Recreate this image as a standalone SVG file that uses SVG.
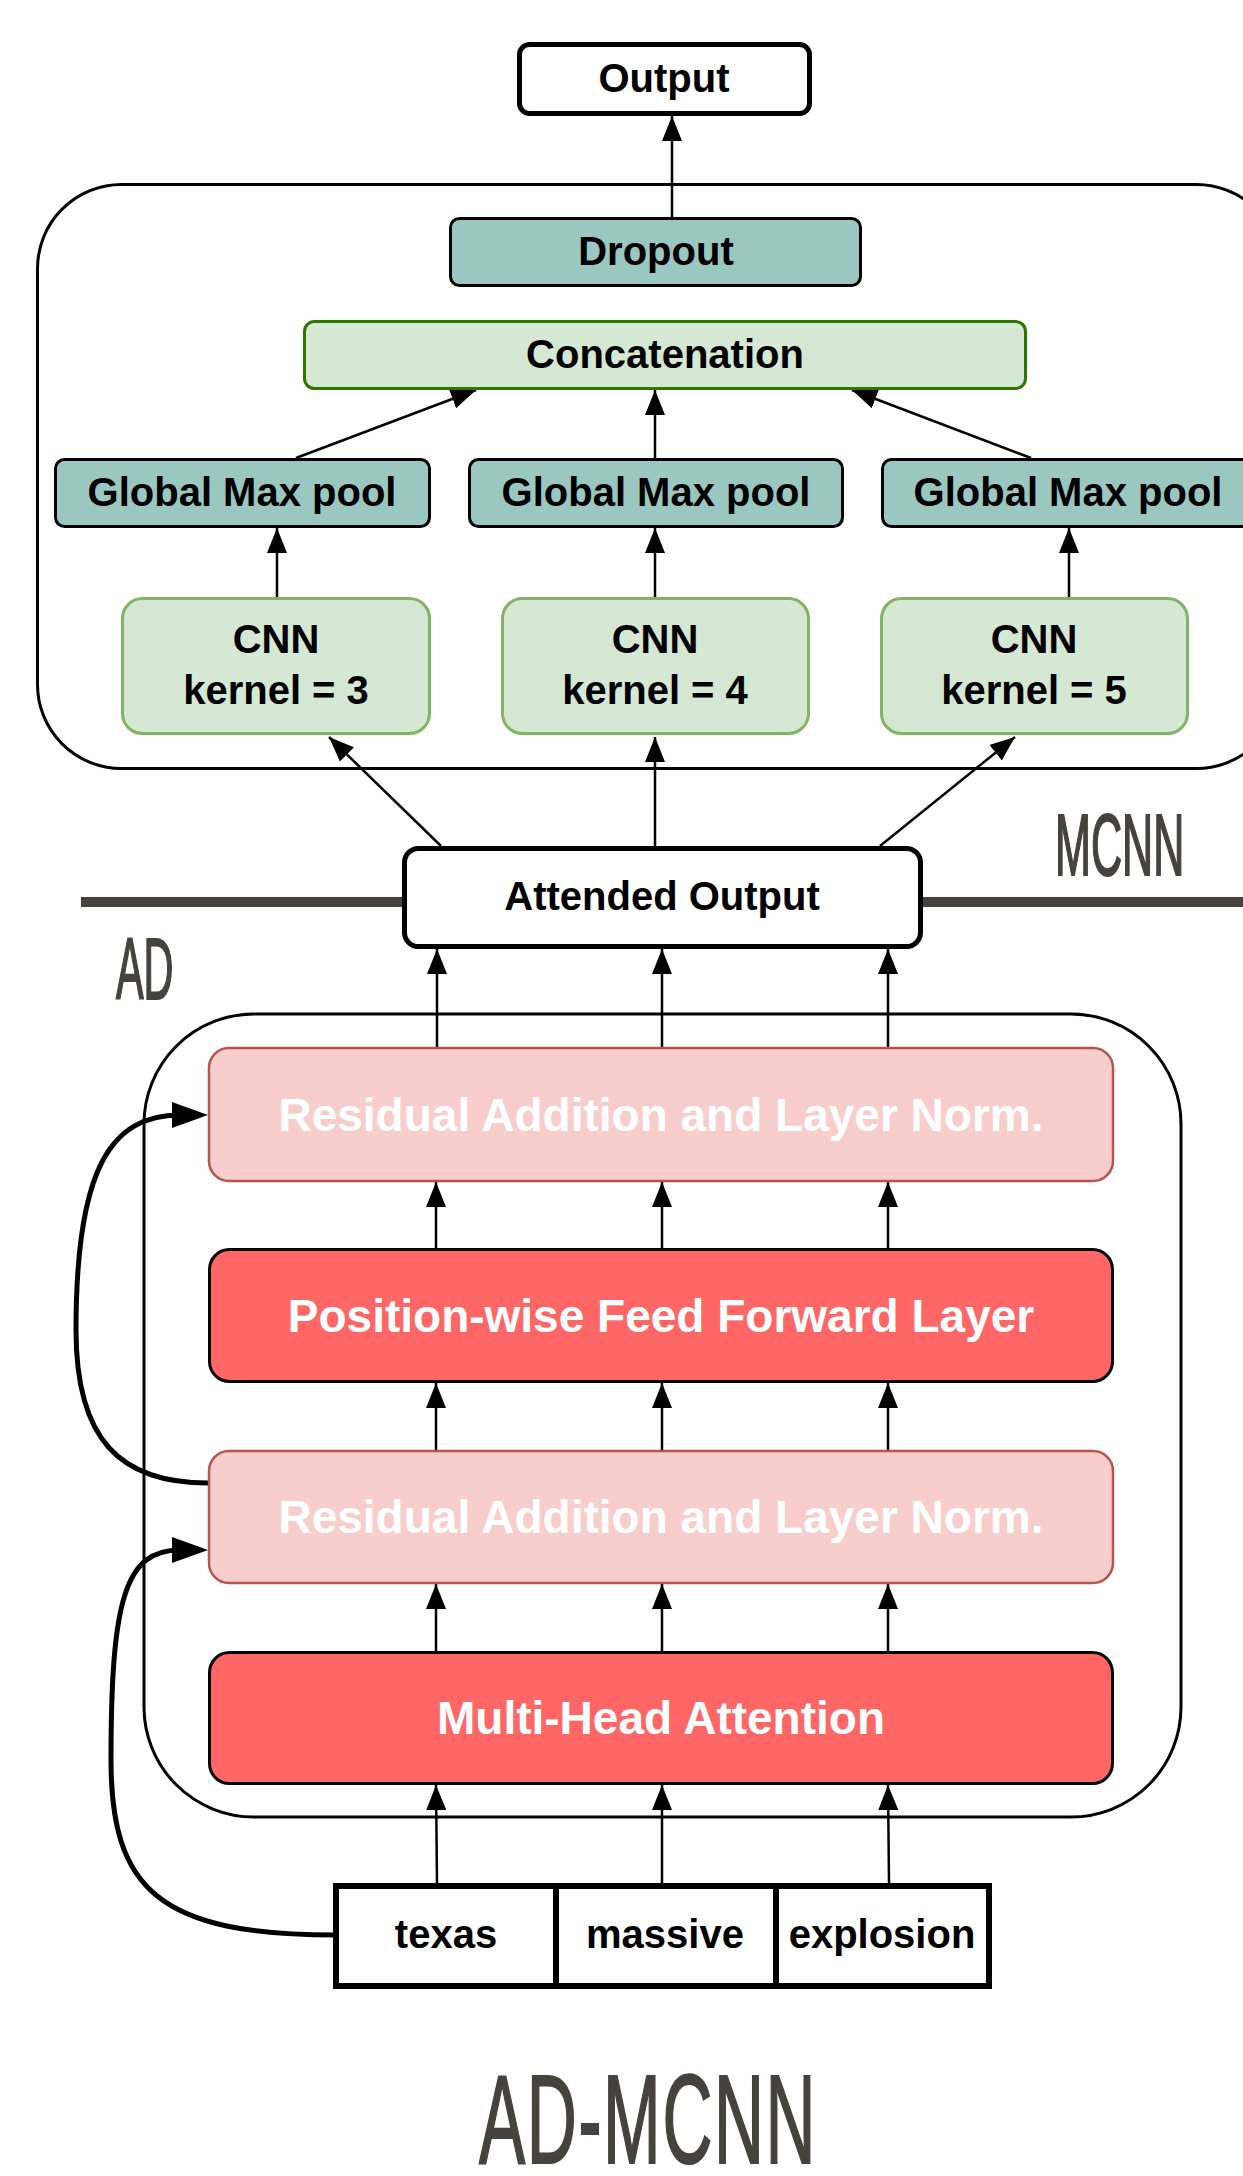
<svg xmlns="http://www.w3.org/2000/svg" width="1243" height="2176" viewBox="0 0 1243 2176">
<style>
text{font-family:"Liberation Sans",Arial,sans-serif;font-weight:bold;text-anchor:middle}
.t40{font-size:40px;fill:#000}
.t46{font-size:46px;fill:#fff}
.lbl{fill:#46423D;stroke:#46423D;stroke-width:2;font-weight:normal;text-anchor:start}
.cont{fill:none;stroke:#000;stroke-width:3}
.teal{fill:#9AC7BF;stroke:#000;stroke-width:3}
.green{fill:#D5E8D4;stroke:#82B366;stroke-width:3}
.white{fill:#fff;stroke:#000;stroke-width:5}
.pink{fill:#F8CECC;stroke:#B85450;stroke-width:2.5}
.red{fill:#FF6666;stroke:#000;stroke-width:3}
.arr{fill:none;stroke:#000;stroke-width:2.5;marker-end:url(#ah)}
.skip{fill:none;stroke:#000;stroke-width:5;marker-end:url(#bh)}
</style>
<defs>
<marker id="ah" markerUnits="userSpaceOnUse" markerWidth="25" markerHeight="20" viewBox="0 0 25 20" refX="25" refY="10" orient="auto"><path d="M0,0 L25,10 L0,20 z" fill="#000"/></marker>
<marker id="bh" markerUnits="userSpaceOnUse" markerWidth="36" markerHeight="26" viewBox="0 0 36 26" refX="8" refY="13" orient="auto"><path d="M0,0 L36,13 L0,26 z" fill="#000"/></marker>
</defs>
<rect width="1243" height="2176" fill="#fff"/>

<g id="mcnn-container"><rect class="cont" x="37.5" y="184.5" width="1243" height="584" rx="84"/></g>
<g id="ad-container"><rect class="cont" x="144" y="1014" width="1037" height="803" rx="110"/></g>

<g id="divider">
<line x1="81" y1="902" x2="404" y2="902" stroke="#46423D" stroke-width="10"/>
<line x1="921" y1="902" x2="1243" y2="902" stroke="#46423D" stroke-width="10"/>
</g>

<g id="labels">
<text id="label-mcnn" class="lbl" transform="translate(1055,875) scale(0.49,1)" x="0" y="0" font-size="88">MCNN</text>
<text id="label-ad" class="lbl" transform="translate(116,999) scale(0.47,1)" x="0" y="0" font-size="88">AD</text>
<text id="label-admcnn" class="lbl" transform="translate(479,2163) scale(0.545,1)" x="0" y="0" font-size="127" letter-spacing="3">AD-MCNN</text>
</g>

<g id="connectors">
<line class="arr" x1="672" y1="217" x2="672" y2="116"/>
<line class="arr" x1="296" y1="458" x2="476" y2="390"/>
<line class="arr" x1="655" y1="458" x2="655" y2="390"/>
<line class="arr" x1="1031" y1="458" x2="852" y2="390"/>
<line class="arr" x1="277" y1="597" x2="277" y2="528"/>
<line class="arr" x1="655" y1="597" x2="655" y2="528"/>
<line class="arr" x1="1069" y1="597" x2="1069" y2="528"/>
<line class="arr" x1="441" y1="846" x2="329" y2="737"/>
<line class="arr" x1="655" y1="846" x2="655" y2="737"/>
<line class="arr" x1="880" y1="846" x2="1015" y2="737"/>
<line class="arr" x1="437" y1="1047" x2="437" y2="949"/>
<line class="arr" x1="662" y1="1047" x2="662" y2="949"/>
<line class="arr" x1="888" y1="1047" x2="888" y2="949"/>
<line class="arr" x1="436" y1="1248" x2="436" y2="1182"/>
<line class="arr" x1="662" y1="1248" x2="662" y2="1182"/>
<line class="arr" x1="888" y1="1248" x2="888" y2="1182"/>
<line class="arr" x1="436" y1="1450" x2="436" y2="1383"/>
<line class="arr" x1="662" y1="1450" x2="662" y2="1383"/>
<line class="arr" x1="888" y1="1450" x2="888" y2="1383"/>
<line class="arr" x1="436" y1="1651" x2="436" y2="1584"/>
<line class="arr" x1="662" y1="1651" x2="662" y2="1584"/>
<line class="arr" x1="888" y1="1651" x2="888" y2="1584"/>
<line class="arr" x1="437" y1="1883" x2="436" y2="1785"/>
<line class="arr" x1="662" y1="1883" x2="662" y2="1785"/>
<line class="arr" x1="889" y1="1883" x2="888" y2="1785"/>
<path class="skip" d="M208 1483 C120 1483 76 1440 76 1330 C76 1170 110 1115 180 1115"/>
<path class="skip" d="M336 1935 C160 1935 111 1890 111 1760 C111 1600 125 1550 180 1550"/>
</g>

<g id="node-output"><rect class="white" x="519.5" y="44.5" width="290" height="69" rx="10"/><text class="t40" x="664" y="92">Output</text></g>
<g id="node-dropout"><rect class="teal" x="450.5" y="218.5" width="410" height="67" rx="9"/><text class="t40" x="656" y="265">Dropout</text></g>
<g id="node-concat"><rect x="304.5" y="321.5" width="721" height="67" rx="10" fill="#D5E8D4" stroke="#2D7600" stroke-width="3"/><text class="t40" x="665" y="368">Concatenation</text></g>

<g id="node-gmp1"><rect class="teal" x="55.5" y="459.5" width="374" height="67" rx="9"/><text class="t40" x="242" y="506">Global Max pool</text></g>
<g id="node-gmp2"><rect class="teal" x="469.5" y="459.5" width="373" height="67" rx="9"/><text class="t40" x="656" y="506">Global Max pool</text></g>
<g id="node-gmp3"><rect class="teal" x="882.5" y="459.5" width="374" height="67" rx="9"/><text class="t40" x="1068" y="506">Global Max pool</text></g>

<g id="node-cnn3"><rect class="green" x="122.5" y="598.5" width="307" height="135" rx="20"/><text class="t40" x="276" y="653">CNN</text><text class="t40" x="276" y="704">kernel = 3</text></g>
<g id="node-cnn4"><rect class="green" x="502.5" y="598.5" width="306" height="135" rx="20"/><text class="t40" x="655" y="653">CNN</text><text class="t40" x="655" y="704">kernel = 4</text></g>
<g id="node-cnn5"><rect class="green" x="881.5" y="598.5" width="306" height="135" rx="20"/><text class="t40" x="1034" y="653">CNN</text><text class="t40" x="1034" y="704">kernel = 5</text></g>

<g id="node-attended"><rect class="white" x="404.5" y="848.5" width="516" height="98" rx="14"/><text class="t40" x="662" y="910">Attended Output</text></g>

<g id="node-resnorm2"><rect class="pink" x="209" y="1048" width="904" height="133" rx="20"/><text class="t46" x="661" y="1131">Residual Addition and Layer Norm.</text></g>
<g id="node-ffn"><rect class="red" x="209.5" y="1249.5" width="903" height="132" rx="20"/><text class="t46" x="661" y="1332">Position-wise Feed Forward Layer</text></g>
<g id="node-resnorm1"><rect class="pink" x="209" y="1451" width="904" height="132" rx="20"/><text class="t46" x="661" y="1533">Residual Addition and Layer Norm.</text></g>
<g id="node-mha"><rect class="red" x="209.5" y="1652.5" width="903" height="131" rx="20"/><text class="t46" x="661" y="1734">Multi-Head Attention</text></g>

<g id="node-tokens">
<rect x="336" y="1886" width="220" height="100" fill="#fff" stroke="#000" stroke-width="6"/>
<rect x="556" y="1886" width="220" height="100" fill="#fff" stroke="#000" stroke-width="6"/>
<rect x="776" y="1886" width="213" height="100" fill="#fff" stroke="#000" stroke-width="6"/>
<text class="t40" x="446" y="1948">texas</text>
<text class="t40" x="665" y="1948">massive</text>
<text class="t40" x="882" y="1948">explosion</text>
</g>
</svg>
